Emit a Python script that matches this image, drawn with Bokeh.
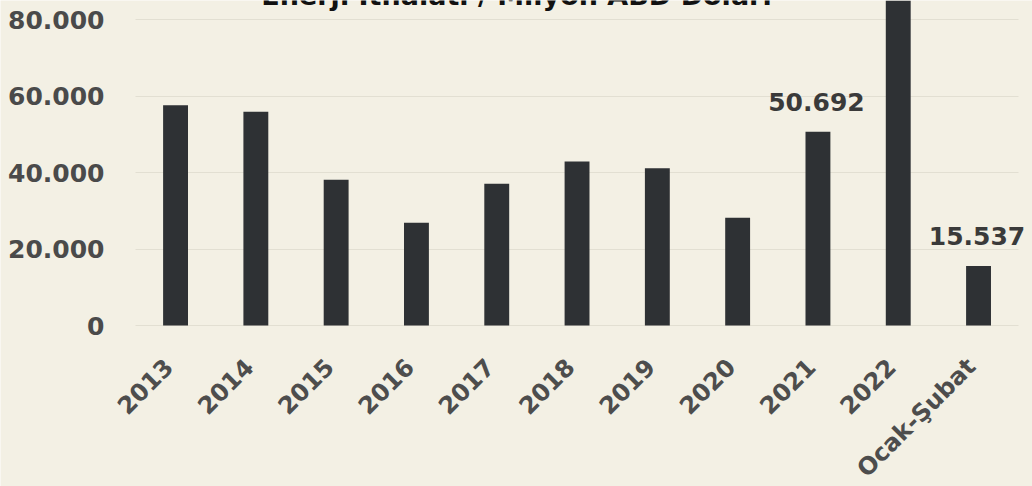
import math
from bokeh.plotting import figure
from bokeh.models import ColumnDataSource, LabelSet, Label, FixedTicker, Range1d
from bokeh.core.properties import value
from bokeh.embed import file_html
from bokeh.resources import INLINE

# ---- data ----
categories = ["2013", "2014", "2015", "2016", "2017", "2018", "2019",
              "2020", "2021", "2022", "Ocak-Şubat"]
values = [57600, 55900, 38100, 26900, 37100, 42900, 41100, 28200, 50692, 96571, 15537]
labeled_categories = ["2021", "Ocak-Şubat"]
labeled_values = [50692, 15537]
labeled_texts = ["50.692", "15.537"]
y_ticks = [0, 20000, 40000, 60000, 80000]
y_tick_labels = ["0", "20.000", "40.000", "60.000", "80.000"]
title_text = "Enerji İthalatı / Milyon ABD Doları"

BG = "#f3f0e4"
BAR = "#2e3134"
FONT = "DejaVu Sans"

n = len(categories)
positions = list(range(n))
pos_of = dict(zip(categories, positions))

p = figure(width=1032, height=486,
           x_range=Range1d(-2.18, n - 1 + 0.672),
           y_range=Range1d(-42100, 85000),
           output_backend="svg", toolbar_location=None,
           min_border_left=0, min_border_right=0,
           min_border_top=0, min_border_bottom=0,
           background_fill_color=BG, border_fill_color=BG)
p.outline_line_color = None
p.xaxis.visible = False
p.yaxis.visible = False
p.xgrid.visible = False
p.ygrid.ticker = FixedTicker(ticks=y_ticks)
p.ygrid.cross_bounds = (-0.5, n - 0.5)
p.ygrid.grid_line_color = "#e2dfd2"
p.ygrid.grid_line_width = 1

src = ColumnDataSource(dict(x=positions, cat=categories, val=values, base=[0] * n))
p.vbar(x="x", top="val", bottom=0, width=0.31, source=src, fill_color=BAR, line_color=None)

# y tick labels
ysrc = ColumnDataSource(dict(y=y_ticks, txt=y_tick_labels))
yl = LabelSet(x=104, x_units="screen", y="y", text="txt", source=ysrc,
              text_align="right", text_baseline="middle",
              text_font=value(FONT), text_font_style=value("bold"),
              text_font_size=value("25px"), text_color="#4a4a4a")
p.add_layout(yl)

# x labels (rotated)
xl = LabelSet(x="x", y="base", text="cat", source=src,
              angle=math.pi / 4, text_align="right", text_baseline="middle",
              x_offset=-7, y_offset=-37,
              text_font=value(FONT), text_font_style=value("bold"),
              text_font_size=value("24px"), text_color="#4d4d4d")
p.add_layout(xl)

# value labels
lab_src = ColumnDataSource(dict(x=[pos_of[c] for c in labeled_categories],
                                val=labeled_values, txt=labeled_texts))
vl = LabelSet(x="x", y="val", text="txt", source=lab_src,
              text_align="center", text_baseline="alphabetic",
              x_offset=-1.5, y_offset=21,
              text_font=value(FONT), text_font_style=value("bold"),
              text_font_size=value("25px"), text_color="#3a3a3a")
p.add_layout(vl)

# partially visible title (cut off at the top, as in the reference)
t = Label(x=516, y=491, x_units="screen", y_units="screen", text=title_text,
          text_align="center", text_baseline="alphabetic",
          text_font=FONT, text_font_style="bold", text_font_size="27px",
          text_color="#111111")
p.add_layout(t)

html = file_html(p, INLINE, title="Enerji İthalatı")
html = html.replace("<body>", '<body style="margin:0;background:%s;overflow:hidden">' % BG, 1)
open("out.html", "w").write(html)
